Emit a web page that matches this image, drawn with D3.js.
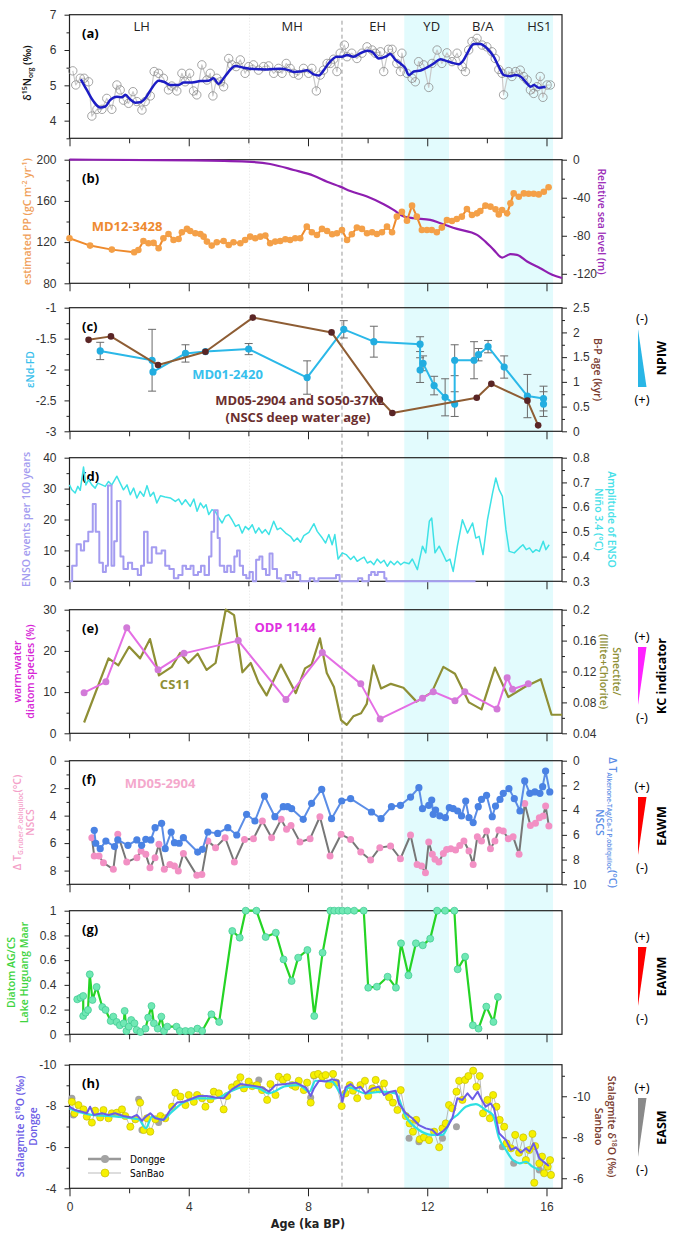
<!DOCTYPE html>
<html>
<head>
<meta charset="utf-8">
<script src="https://cdn.jsdelivr.net/npm/d3@7"></script>
<style>
body{margin:0;background:#fff;}
svg text{font-family:"Liberation Sans Narrow","Arial Narrow","DejaVu Sans Condensed",sans-serif;}
.ttl{font-family:"Open Sans",sans-serif;font-weight:600;font-size:10.5px;}
.lbl{font-family:"Open Sans",sans-serif;font-weight:700;font-size:13px;}
</style>
</head>
<body>
<svg id="chart" width="686" height="1235"></svg>
<script>
const WIDTH = 686, HEIGHT = 1235;
const LEFT = 69.5, RIGHT = 562;
const PANEL_H = 123.6;
const TOPS = [14.7, 159.7, 307.7, 457.7, 609.7, 760.7, 910.7, 1064.7];

// ---- data ----
const ageTicks = [0, 4, 8, 12, 16];
const ageMinor = [2, 6, 10, 14];
const eraNames = ['LH', 'MH', 'EH', 'YD', 'B/A', 'HS1'];
const eraAges = [2.42, 7.47, 10.34, 12.15, 13.86, 15.76];
const bands = [[11.23, 12.73], [14.59, 16.22]];
const dashedAge = 9.14, dottedAge = 6.04;

// (a) d15N org
const n15Raw = [[0.11,5.41],[0.21,5.01],[0.36,5.2],[0.49,5.2],[0.64,5.1],[0.75,4.13],[0.92,4.32],[1.09,4.32],[1.25,4.63],[1.42,4.32],[1.59,5.01],[1.7,4.87],[1.81,4.58],[1.98,4.49],[2.13,4.82],[2.26,4.54],[2.43,4.3],[2.54,4.54],[2.71,4.7],[2.84,5.39],[2.99,5.34],[3.15,5.2],[3.32,4.87],[3.43,4.98],[3.6,4.84],[3.77,5.34],[3.88,5.1],[4.03,5.34],[4.16,4.84],[4.27,4.73],[4.44,5.58],[4.61,5.15],[4.72,5.34],[4.81,4.7],[4.94,5.2],[5.06,5.1],[5.17,4.96],[5.34,5.76],[5.45,5.58],[5.59,5.53],[5.73,5.72],[5.89,5.34],[6.01,5.53],[6.17,5.58],[6.34,5.43],[6.51,5.53],[6.68,5.55],[6.85,5.34],[7.01,5.48],[7.13,5.34],[7.27,5.62],[7.4,5.48],[7.52,5.34],[7.68,5.29],[7.85,5.48],[8.02,5.34],[8.13,5.48],[8.28,4.84],[8.41,5.29],[8.52,5.43],[8.64,5.62],[8.75,5.62],[8.86,5.74],[8.97,5.39],[9.08,5.91],[9.22,6.14],[9.31,5.81],[9.47,5.91],[9.64,5.76],[9.81,5.91],[9.98,6.09],[10.15,6.0],[10.26,5.91],[10.43,5.95],[10.54,5.39],[10.7,6.02],[10.82,6.02],[10.98,5.62],[11.1,5.39],[11.15,5.91],[11.32,5.34],[11.49,5.2],[11.6,5.1],[11.71,5.67],[11.88,5.58],[12.05,4.94],[12.16,5.62],[12.33,6.0],[12.49,5.62],[12.66,5.92],[12.83,5.67],[13.0,5.91],[13.17,5.53],[13.28,5.39],[13.39,6.0],[13.5,6.24],[13.67,6.33],[13.84,6.14],[14.0,6.09],[14.17,5.95],[14.28,5.76],[14.4,5.45],[14.51,5.34],[14.56,4.73],[14.73,5.39],[14.84,5.25],[14.96,5.39],[15.12,5.43],[15.23,5.25],[15.35,5.15],[15.46,4.87],[15.57,4.77],[15.68,4.96],[15.79,5.25],[15.88,4.66],[16.02,5.01],[16.13,5.01]];
const n15Smooth = [[0.38,5.17],[0.58,4.87],[0.81,4.54],[1.03,4.37],[1.2,4.4],[1.36,4.58],[1.59,4.68],[1.76,4.66],[1.87,4.73],[2.04,4.6],[2.2,4.51],[2.37,4.52],[2.54,4.63],[2.76,4.92],[2.99,5.13],[3.16,5.1],[3.38,5.01],[3.66,5.01],[3.83,5.08],[4.11,5.08],[4.39,5.12],[4.67,5.13],[4.83,5.2],[5.0,5.04],[5.17,5.2],[5.34,5.39],[5.56,5.55],[5.84,5.5],[6.18,5.46],[6.62,5.45],[7.07,5.47],[7.35,5.43],[7.52,5.38],[7.74,5.39],[7.97,5.43],[8.19,5.31],[8.36,5.28],[8.53,5.43],[8.69,5.62],[8.97,5.81],[9.14,5.81],[9.31,5.86],[9.53,5.81],[9.76,5.91],[9.98,5.98],[10.15,5.95],[10.37,5.76],[10.6,5.81],[10.76,5.89],[10.93,5.72],[11.1,5.62],[11.27,5.48],[11.38,5.29],[11.55,5.39],[11.78,5.42],[12.0,5.51],[12.22,5.62],[12.44,5.74],[12.61,5.7],[12.83,5.64],[13.06,5.6],[13.22,5.72],[13.39,5.98],[13.56,6.17],[13.78,6.17],[14.0,6.05],[14.23,5.81],[14.4,5.53],[14.57,5.29],[14.79,5.26],[14.96,5.29],[15.13,5.25],[15.3,5.1],[15.47,4.96],[15.58,5.01],[15.74,4.93],[15.97,4.96]];

// (b) PP and sea level
const ppMD12 = [[0,123.7],[0.69,116.6],[1.42,112.7],[2.17,110.1],[2.31,112.4],[2.48,121.1],[2.65,118.9],[2.82,119.2],[2.99,114.0],[3.15,123.7],[3.32,127.9],[3.49,122.1],[3.66,123.0],[3.77,129.5],[3.94,132.8],[4.05,130.8],[4.22,128.6],[4.39,127.9],[4.5,125.3],[4.61,120.5],[4.77,116.6],[4.94,119.8],[5.17,121.1],[5.34,117.2],[5.5,119.8],[5.73,118.9],[5.89,122.1],[6.06,125.3],[6.23,123.7],[6.4,125.3],[6.57,126.3],[6.73,118.9],[6.9,120.5],[7.07,121.1],[7.24,122.8],[7.4,122.1],[7.57,123.7],[7.74,123.7],[7.96,135.0],[8.13,129.5],[8.3,126.9],[8.47,132.8],[8.64,130.8],[8.81,127.6],[8.97,128.6],[9.14,131.8],[9.31,122.0],[9.47,127.6],[9.64,134.1],[9.81,132.8],[9.98,128.6],[10.15,129.5],[10.31,127.9],[10.48,129.5],[10.65,135.0],[10.82,129.5],[10.98,144.7],[11.15,149.5],[11.32,140.8],[11.49,155.4],[11.65,144.7],[11.82,131.8],[11.99,131.8],[12.15,131.8],[12.32,129.5],[12.49,134.1],[12.66,141.5],[12.83,140.5],[12.99,142.5],[13.16,144.7],[13.33,152.1],[13.5,146.3],[13.67,147.9],[13.78,150.2],[13.95,155.4],[14.12,154.4],[14.29,151.8],[14.4,146.9],[14.51,151.1],[14.68,147.9],[14.79,157.6],[14.9,167.3],[15.07,164.1],[15.24,167.3],[15.4,167.0],[15.57,167.0],[15.74,166.3],[15.91,168.9],[16.07,173.2]];
const seaLevel = [[0,0],[4.16,-0.7],[5.95,-2],[6.73,-4.5],[7.52,-10.8],[8.19,-16.8],[8.64,-23.1],[9.08,-28.3],[9.42,-32.9],[9.98,-38.8],[10.54,-46.9],[10.87,-52.8],[11.21,-59.8],[11.55,-61.6],[12.1,-63.3],[12.44,-66.8],[13.0,-72.8],[13.67,-79.1],[13.95,-86.1],[14.23,-94.8],[14.51,-102.9],[14.79,-99.4],[15.01,-100.1],[15.35,-107.1],[15.79,-114.1],[16.19,-121.1],[16.52,-124.5]];

// (c) eNd and deep water age  [age, value, half error]
const ndMD01 = [[1.03,-1.70,0.14],[2.77,-1.85,0.5],[2.80,-2.04,0],[3.89,-1.74,0.14],[4.56,-1.71,0],[6.01,-1.67,0.09],[7.97,-2.13,0.27],[9.20,-1.35,0.14],[10.21,-1.55,0.25],[11.76,-1.59,0.12],[11.76,-2.01,0.2],[11.86,-1.90,0.12],[12.23,-2.26,0.15],[12.60,-2.45,0.3],[12.92,-2.56,0.2],[12.92,-1.85,0.25],[13.57,-1.85,0.3],[13.72,-1.76,0.1],[14.04,-1.63,0.1],[14.58,-1.96,0.18],[15.36,-2.43,0.35],[15.90,-2.47,0.2],[15.90,-2.56,0.2]];
const bpAge = [[0.64,1.85],[1.39,1.92],[2.97,1.34],[4.56,1.61],[6.15,2.30],[8.79,2.0],[10.41,0.64],[10.83,0.37],[13.66,0.68],[14.15,0.96],[15.36,0.62],[15.72,0.12]];

// (d) ENSO
const ensoAge = [0,0.09,0.24,0.38,0.49,0.63,0.78,0.88,1.0,1.12,1.22,1.29,1.41,1.5,1.59,1.71,1.81,1.96,2.1,2.29,2.4,2.5,2.62,2.76,2.91,3.09,3.21,3.35,3.5,3.65,3.79,3.91,4.06,4.16,4.31,4.41,4.53,4.68,4.76,4.85,4.97,5.04,5.19,5.29,5.41,5.53,5.62,5.71,5.82,5.93,6.04,6.15,6.26,6.37,6.47,6.59,6.71,6.81,6.96,7.1,7.25,7.4,7.5,7.62,7.74,7.91,8.06,8.21,8.35,8.57,8.79,8.94,9.06,9.38,9.68,9.82,10.04,10.12,10.24,10.34,10.44,10.56,10.63,13.62];
const ensoCount = [0,5,12,10,13,16,25,16,6,3,5,31,5,13,26,8,4,6,4,2,5,16,6,11,9,10,5,4,1,2,5,4,5,2,3,5,2,8,16,23,14,5,3,5,3,8,10,5,2,1,3,0,7,8,4,2,9,4,1,0,2,1,3,2,0,0,1,0,1,1,1,2,0,0,1,0,2,3,2,3,3,1,0,0];
const ensoAmp = [[0,0.69],[0.08,0.67],[0.19,0.657],[0.28,0.684],[0.36,0.668],[0.47,0.762],[0.55,0.69],[0.64,0.711],[0.75,0.69],[0.86,0.677],[0.95,0.697],[1.09,0.69],[1.2,0.684],[1.31,0.704],[1.42,0.69],[1.59,0.725],[1.7,0.697],[1.81,0.67],[1.93,0.69],[2.04,0.65],[2.15,0.677],[2.26,0.637],[2.37,0.664],[2.49,0.644],[2.6,0.687],[2.71,0.644],[2.82,0.66],[2.93,0.617],[3.05,0.646],[3.21,0.641],[3.38,0.637],[3.55,0.623],[3.66,0.633],[3.77,0.61],[3.89,0.63],[4.05,0.603],[4.17,0.633],[4.28,0.583],[4.39,0.617],[4.5,0.597],[4.58,0.61],[4.67,0.57],[4.78,0.59],[4.89,0.583],[5.01,0.556],[5.12,0.536],[5.23,0.563],[5.34,0.57],[5.45,0.549],[5.57,0.522],[5.68,0.529],[5.79,0.495],[5.9,0.522],[6.01,0.509],[6.13,0.529],[6.24,0.495],[6.35,0.516],[6.46,0.495],[6.57,0.509],[6.69,0.489],[6.85,0.543],[6.97,0.509],[7.08,0.516],[7.25,0.495],[7.41,0.482],[7.53,0.462],[7.64,0.475],[7.75,0.458],[7.86,0.485],[8.03,0.498],[8.2,0.533],[8.31,0.502],[8.48,0.475],[8.59,0.455],[8.7,0.489],[8.81,0.448],[8.9,0.489],[9.01,0.39],[9.15,0.415],[9.28,0.408],[9.43,0.388],[9.54,0.401],[9.65,0.381],[9.76,0.39],[9.88,0.398],[9.99,0.374],[10.1,0.381],[10.21,0.367],[10.32,0.39],[10.44,0.374],[10.55,0.385],[10.66,0.361],[10.77,0.381],[10.89,0.367],[11.0,0.381],[11.11,0.367],[11.22,0.377],[11.39,0.371],[11.5,0.39],[11.67,0.347],[11.84,0.442],[11.95,0.415],[12.07,0.543],[12.15,0.556],[12.26,0.415],[12.4,0.442],[12.51,0.415],[12.64,0.381],[12.76,0.39],[12.87,0.34],[13.01,0.442],[13.18,0.549],[13.35,0.495],[13.52,0.536],[13.63,0.475],[13.74,0.482],[13.87,0.408],[14.02,0.549],[14.19,0.657],[14.3,0.718],[14.41,0.671],[14.52,0.644],[14.64,0.509],[14.75,0.421],[14.92,0.415],[15.09,0.435],[15.21,0.448],[15.32,0.428],[15.43,0.435],[15.54,0.417],[15.65,0.428],[15.76,0.421],[15.89,0.462],[15.98,0.428],[16.09,0.448]];

// (e) warm-water diatoms and clay ratio
const odp1144 = [[0.49,9.87],[1.22,12.5],[1.92,25.6],[2.97,15.4],[3.84,19.4],[5.66,22.5],[7.26,8.2],[8.48,19.6],[9.77,12.0],[10.42,3.5],[11.84,8.5],[12.2,10.1],[12.93,7.9],[13.26,10.1],[14.34,5.9],[14.68,13.5],[14.86,10.7],[15.39,12.0]];
const cs11 = [[0.49,0.054],[1.31,0.137],[1.64,0.128],[2.0,0.152],[2.37,0.137],[2.7,0.162],[3.0,0.115],[3.43,0.126],[3.71,0.144],[3.99,0.131],[4.3,0.143],[4.6,0.122],[4.9,0.131],[5.24,0.2],[5.52,0.193],[5.8,0.119],[6.08,0.131],[6.34,0.106],[6.61,0.089],[7.09,0.129],[7.59,0.092],[7.9,0.124],[8.12,0.129],[8.4,0.163],[8.63,0.118],[8.87,0.1],[9.11,0.057],[9.3,0.051],[9.52,0.062],[9.78,0.066],[9.97,0.078],[10.19,0.128],[10.45,0.098],[10.78,0.104],[11.2,0.099],[11.64,0.081],[12.15,0.093],[12.54,0.126],[12.93,0.117],[13.4,0.08],[13.82,0.071],[14.27,0.125],[14.72,0.087],[15.27,0.1],[15.81,0.11],[16.17,0.064],[16.52,0.064]];

// (f) temperature differences
const dtAlk = [[0.83,5.63],[0.88,6.68],[1.03,7.12],[1.22,6.5],[1.51,6.95],[1.62,6.41],[1.96,6.85],[2.26,6.41],[2.42,6.85],[2.56,6.36],[2.73,6.41],[2.87,5.42],[3.09,5.07],[3.21,7.12],[3.41,5.77],[3.52,6.63],[3.68,6.68],[3.82,6.23],[4.3,7.39],[4.46,7.17],[4.64,5.77],[4.97,5.88],[5.31,5.42],[5.61,6.01],[5.94,4.34],[6.22,4.88],[6.54,2.86],[6.89,4.53],[7.17,3.72],[7.32,3.72],[7.45,3.88],[7.84,4.74],[8.12,3.45],[8.46,2.32],[8.79,4.69],[9.13,3.26],[9.43,3.07],[10.13,4.15],[10.45,4.69],[10.8,3.72],[11.1,3.61],[11.44,2.94],[11.72,2.18],[11.84,3.88],[12.05,3.61],[12.15,3.18],[12.2,4.34],[12.28,3.99],[12.42,4.47],[12.61,4.61],[12.74,3.8],[12.87,3.88],[13.02,4.07],[13.15,4.47],[13.29,3.26],[13.4,4.61],[13.54,5.01],[13.71,3.72],[13.82,3.13],[13.99,2.8],[14.18,4.53],[14.29,3.67],[14.44,3.13],[14.55,2.64],[14.74,2.26],[14.92,3.07],[15.11,4.07],[15.27,1.64],[15.44,2.64],[15.61,2.53],[15.78,2.64],[15.87,2.1],[15.97,0.84],[16.11,2.53]];
const dtRuber = [[0.75,5.61],[0.83,6.94],[0.99,6.94],[1.14,7.43],[1.47,7.91],[1.62,5.36],[1.92,7.38],[2.26,7.06],[2.4,6.58],[2.56,6.82],[2.7,7.79],[2.87,7.06],[3.0,6.09],[3.18,7.91],[3.37,7.55],[3.52,7.67],[3.65,8.03],[3.82,6.75],[4.27,8.35],[4.44,8.28],[4.64,5.85],[4.9,6.33],[5.22,5.61],[5.53,7.38],[5.87,5.73],[6.17,5.68],[6.47,4.39],[6.78,5.61],[7.1,4.27],[7.28,5.0],[7.43,4.71],[7.73,5.92],[8.07,5.68],[8.4,4.08],[8.74,6.94],[9.11,5.36],[9.43,5.73],[9.77,6.65],[10.1,7.23],[10.41,6.33],[10.77,6.21],[11.1,7.14],[11.44,5.41],[11.66,7.55],[11.81,7.67],[11.94,8.16],[12.05,5.92],[12.17,6.82],[12.26,7.18],[12.39,7.38],[12.54,6.75],[12.65,6.46],[12.79,6.41],[12.95,6.51],[13.09,6.17],[13.23,5.85],[13.4,6.58],[13.54,7.55],[13.68,5.53],[13.82,5.85],[13.99,5.12],[14.12,6.41],[14.27,5.85],[14.4,5.05],[14.55,5.12],[14.72,5.68],[14.88,5.53],[15.08,6.82],[15.27,3.11],[15.46,4.71],[15.63,4.56],[15.76,4.15],[15.89,4.03],[15.97,3.3],[16.08,4.76]];

// (g) Lake Huguang Maar diatom AG/CS
const agcs = [[0.26,0.283],[0.37,0.296],[0.46,0.31],[0.46,0.148],[0.54,0.175],[0.62,0.197],[0.68,0.485],[0.77,0.278],[0.91,0.383],[1.1,0.221],[1.21,0.197],[1.38,0.108],[1.47,0.143],[1.58,0.1],[1.69,0.073],[1.82,0.089],[1.85,0.189],[1.91,0.027],[1.99,0.062],[2.07,0.116],[2.18,0.089],[2.25,0.035],[2.38,0.019],[2.55,0.046],[2.64,0.135],[2.75,0.229],[2.83,0.089],[2.96,0.046],[3.08,0.143],[3.17,0.027],[3.28,0.062],[3.59,0.062],[3.7,0.027],[3.89,0.027],[4.08,0.027],[4.29,0.046],[4.45,0.027],[4.76,0.162],[5.02,0.1],[5.46,0.836],[5.71,0.782],[5.91,1],[6.27,1],[6.58,0.787],[6.92,0.822],[7.18,0.606],[7.45,0.431],[7.67,0.62],[7.98,0.682],[8.21,0.148],[8.49,0.66],[8.75,1],[8.88,1],[9.03,1],[9.16,1],[9.33,1],[9.55,1],[9.87,1],[10.02,0.377],[10.31,0.385],[10.67,0.466],[10.95,0.377],[11.12,0.736],[11.37,0.477],[11.62,0.736],[11.85,0.72],[12.1,0.774],[12.33,1],[12.6,1],[12.91,1],[13.02,0.526],[13.27,0.628],[13.53,0.073],[13.72,0.046],[13.98,0.224],[14.22,0.1],[14.37,0.302]];

// (h) stalagmite d18O
const dongSmooth = [[0,-7.96],[0.19,-7.8],[0.41,-7.72],[0.58,-7.64],[0.69,-7.96],[0.81,-7.56],[1.09,-7.64],[1.31,-7.56],[1.53,-7.64],[1.81,-7.51],[2.09,-7.44],[2.26,-7.56],[2.43,-7.28],[2.56,-7.48],[2.71,-7.64],[2.88,-7.4],[3.16,-7.32],[3.38,-7.8],[3.61,-8.16],[3.83,-8.2],[4.05,-8.32],[4.33,-8.48],[4.61,-8.48],[4.89,-8.41],[5.17,-8.37],[5.45,-8.8],[5.73,-9.06],[5.96,-9.01],[6.24,-8.96],[6.46,-8.9],[6.69,-8.69],[6.91,-9.01],[7.25,-9.06],[7.59,-9.13],[7.92,-8.9],[8.09,-8.48],[8.2,-8.85],[8.37,-9.22],[8.59,-9.18],[8.81,-9.29],[9.01,-9.22],[9.15,-8.2],[9.26,-8.9],[9.43,-9.06],[9.6,-8.85],[9.76,-8.93],[9.93,-8.61],[10.16,-8.85],[10.38,-8.93],[10.55,-8.53],[10.77,-8.69],[10.94,-8.74],[11.05,-8.12],[11.28,-7.64],[11.5,-7.4],[11.72,-7.07],[11.95,-6.91],[12.17,-6.83],[12.34,-6.59],[12.51,-6.75],[12.68,-6.99],[12.84,-7.4],[13.01,-8.37],[13.18,-8.29],[13.35,-8.61],[13.52,-8.32],[13.69,-8.69],[13.83,-8.29],[13.96,-7.96],[14.13,-8.12],[14.24,-7.88],[14.41,-6.67],[14.64,-6.34],[14.81,-5.86],[14.97,-5.99],[15.14,-5.73],[15.31,-5.94],[15.43,-5.78],[15.57,-6.18],[15.76,-5.46],[15.97,-5.21],[16.08,-5.08]];
const sanSmooth = [[0,-7.88],[0.41,-7.67],[0.75,-7.56],[1.31,-7.51],[1.87,-7.44],[2.32,-7.35],[2.56,-6.91],[2.77,-7.48],[3.1,-7.32],[3.44,-7.72],[3.77,-8.12],[4.33,-8.37],[4.89,-8.37],[5.45,-8.74],[5.9,-8.93],[6.35,-8.85],[6.69,-8.61],[7.25,-8.96],[7.69,-9.01],[8.05,-8.69],[8.25,-9.22],[8.81,-9.18],[9.15,-8.53],[9.37,-8.9],[9.93,-8.61],[10.49,-8.69],[10.94,-8.61],[11.28,-7.48],[11.72,-6.83],[12.17,-6.59],[12.51,-6.59],[12.79,-7.32],[13.01,-7.56],[13.29,-7.96],[13.63,-8.09],[13.96,-7.8],[14.2,-7.56],[14.41,-6.43],[14.64,-5.86],[14.87,-5.37],[15.1,-5.21],[15.31,-5.29],[15.53,-5.05],[15.76,-4.89]];
const sanRaw = [[0.08,-8.2],[0.17,-7.64],[0.3,-8.04],[0.47,-7.83],[0.58,-7.48],[0.75,-7.19],[0.86,-7.77],[1.03,-7.44],[1.14,-7.8],[1.31,-7.4],[1.42,-7.64],[1.59,-7.67],[1.76,-7.83],[1.87,-7.51],[2.04,-6.99],[2.21,-7.35],[2.37,-8.16],[2.49,-6.83],[2.6,-7.4],[2.71,-6.75],[2.88,-7.35],[3.05,-7.51],[3.21,-7.4],[3.44,-7.96],[3.55,-8.64],[3.72,-8.45],[3.89,-8.04],[4.0,-8.53],[4.17,-8.2],[4.28,-8.53],[4.45,-8.37],[4.56,-7.96],[4.73,-8.32],[4.84,-8.69],[5.01,-8.61],[5.17,-7.83],[5.29,-8.48],[5.45,-8.9],[5.62,-9.06],[5.73,-9.39],[5.85,-8.85],[6.01,-9.18],[6.13,-8.96],[6.29,-9.01],[6.46,-8.77],[6.63,-8.29],[6.74,-9.06],[6.91,-8.53],[7.02,-9.42],[7.16,-9.26],[7.3,-9.39],[7.47,-9.01],[7.58,-8.93],[7.69,-9.22],[7.86,-8.77],[7.97,-9.13],[8.09,-8.16],[8.2,-9.5],[8.34,-9.55],[8.48,-9.42],[8.59,-9.5],[8.7,-9.01],[8.84,-9.55],[8.95,-9.13],[9.13,-7.99],[9.26,-8.61],[9.4,-9.01],[9.51,-8.74],[9.65,-8.37],[9.76,-9.01],[9.91,-9.22],[10.02,-8.48],[10.16,-8.85],[10.27,-9.26],[10.4,-8.8],[10.55,-9.09],[10.72,-8.42],[10.85,-8.16],[11.0,-7.8],[11.11,-8.77],[11.28,-7.51],[11.41,-7.15],[11.52,-6.75],[11.63,-7.32],[11.75,-6.38],[11.89,-6.47],[12.06,-6.34],[12.23,-6.75],[12.4,-5.99],[12.51,-6.91],[12.62,-7.15],[12.73,-8.04],[12.84,-7.88],[12.98,-8.69],[13.07,-9.22],[13.18,-8.29],[13.27,-9.26],[13.38,-9.45],[13.54,-9.71],[13.65,-8.93],[13.76,-9.45],[13.87,-7.64],[14.02,-8.29],[14.1,-7.4],[14.21,-8.53],[14.32,-7.96],[14.43,-7.32],[14.58,-6.99],[14.66,-6.18],[14.81,-5.94],[14.95,-6.59],[15.08,-5.73],[15.22,-6.47],[15.31,-5.37],[15.42,-5.86],[15.53,-6.64],[15.59,-4.27],[15.62,-6.05],[15.76,-5.21],[15.85,-5.54],[15.92,-4.73],[16.04,-5.05],[16.12,-5.37],[16.15,-4.65]];
const dongRaw = [[0.08,-8.37],[0.13,-7.56],[2.32,-8.32],[2.43,-6.83],[2.99,-7.19],[6.35,-9.26],[8.09,-8.41],[8.2,-9.45],[11.39,-6.43],[11.72,-6.26],[12.51,-6.43],[12.98,-6.99],[14.52,-6.02],[14.9,-5.21],[15.76,-4.89]];

// ---- drawing ----
const svg = d3.select('#chart');
const x = d3.scaleLinear().domain([0, 16.52]).range([LEFT, RIGHT]);
const yFirst = TOPS[0], yLast = TOPS[7] + PANEL_H;

svg.selectAll('.band').data(bands).enter().append('rect')
	.attr('x', d => x(d[0])).attr('width', d => x(d[1]) - x(d[0]))
	.attr('y', yFirst).attr('height', yLast - yFirst)
	.attr('fill', '#e2fbfd');

svg.append('line').attr('x1', x(dottedAge)).attr('x2', x(dottedAge))
	.attr('y1', yFirst).attr('y2', yLast)
	.attr('stroke', '#e4e4e4').attr('stroke-dasharray', '1,2');
svg.append('line').attr('x1', x(dashedAge)).attr('x2', x(dashedAge))
	.attr('y1', yFirst + 6).attr('y2', yLast)
	.attr('stroke', '#999').attr('stroke-dasharray', '4,3');

var styleAxis = function(a){
	a.selectAll('.domain').remove();
	a.selectAll('line').attr('stroke', '#222');
	a.selectAll('text').attr('font-size', 12).attr('fill', '#333')
		.style('font-family', '"Liberation Sans Narrow","Arial Narrow",sans-serif');
};

var yAxis = function(g, scale, side, major, minor){
	var gen = side == 'left' ? d3.axisLeft : d3.axisRight;
	var a = g.append('g').attr('transform', 'translate(' + (side == 'left' ? LEFT : RIGHT) + ',0)');
	a.call(gen(scale).tickValues(major).tickSize(5).tickPadding(side == 'left' ? 8 : 6).tickFormat(d => String(d)));
	a.append('g').call(gen(scale).tickValues(minor).tickSize(3).tickFormat(''));
	styleAxis(a);
};

var makePanel = function(i, name){
	var top = TOPS[i], bot = top + PANEL_H;
	var g = svg.append('g');
	var a = g.append('g').attr('transform', 'translate(0,' + bot + ')');
	a.call(d3.axisBottom(x).tickValues(ageTicks).tickSize(8).tickPadding(6)
		.tickFormat(i == 7 ? d3.format('d') : ''));
	a.append('g').call(d3.axisBottom(x).tickValues(ageMinor).tickSize(5).tickFormat(''));
	styleAxis(a);
	g.append('rect').attr('x', LEFT).attr('y', top).attr('width', RIGHT - LEFT).attr('height', PANEL_H)
		.attr('fill', 'none').attr('stroke', '#222').attr('stroke-width', 1.2);
	g.append('text').attr('class', 'lbl').attr('x', 82).attr('y', top + 23).text(name);
	return g;
};

var yRange = i => [TOPS[i] + PANEL_H, TOPS[i]];

var drawLine = function(g, data, ys, color, w, curve){
	g.append('path')
		.attr('d', d3.line().x(d => x(d[0])).y(d => ys(d[1])).curve(curve || d3.curveLinear)(data))
		.attr('fill', 'none').attr('stroke', color).attr('stroke-width', w)
		.attr('stroke-linejoin', 'round');
};

var drawDots = function(g, data, ys, r, fill, stroke, sw){
	g.append('g').selectAll('circle').data(data).enter().append('circle')
		.attr('cx', d => x(d[0])).attr('cy', d => ys(d[1])).attr('r', r)
		.attr('fill', fill).attr('stroke', stroke || 'none').attr('stroke-width', sw || 0);
};

// vertical axis titles; lines: array of arrays of [text, kind] where kind: '', 'sup', 'sub'
var vTitle = function(xp, yc, rot, color, lines){
	var t = svg.append('text').attr('class', 'ttl')
		.attr('transform', 'translate(' + xp + ',' + yc + ') rotate(' + rot + ')')
		.attr('text-anchor', 'middle').attr('fill', color);
	lines.forEach(function(parts, li){
		parts.forEach(function(p, pi){
			var s = t.append('tspan').text(p[0]);
			if (pi == 0) s.attr('x', 0).attr('dy', li == 0 ? 0 : 13);
			if (p[1] == 'sup') s.attr('baseline-shift', '4').attr('font-size', 7);
			if (p[1] == 'sub') s.attr('baseline-shift', '-2').attr('font-size', 6.5);
		});
	});
};

var mid = i => TOPS[i] + PANEL_H / 2;

// (a)
var ga = makePanel(0, '(a)');
var ya = d3.scaleLinear().domain([3.5, 7]).range(yRange(0));
yAxis(ga, ya, 'left', [4, 5, 6, 7], [3.5, 4.5, 5.5, 6.5]);
drawLine(ga, n15Raw, ya, '#c9c9c9', 1.2);
drawDots(ga, n15Raw, ya, 4.2, 'none', '#8d8d8d', 0.8);
drawLine(ga, n15Smooth, ya, '#1c1cc4', 2.5, d3.curveMonotoneX);
ga.selectAll('.era').data(eraNames).enter().append('text')
	.attr('x', (d, k) => x(eraAges[k])).attr('y', TOPS[0] + 16)
	.attr('text-anchor', 'middle').attr('font-size', 13).attr('fill', '#222')
	.style('font-family', '"Open Sans",sans-serif').text(d => d);
vTitle(31, 73, -90, '#111', [[['δ', ''], ['15', 'sup'], ['N', ''], ['org', 'sub'], [' (‰)', '']]]);

// (b)
var gb = makePanel(1, '(b)');
var ybL = d3.scaleLinear().domain([80, 200]).range(yRange(1));
var ybR = d3.scaleLinear().domain([-130, 0]).range(yRange(1));
yAxis(gb, ybL, 'left', [80, 120, 160, 200], [100, 140, 180]);
yAxis(gb, ybR, 'right', [0, -40, -80, -120], [-20, -60, -100]);
drawLine(gb, seaLevel, ybR, '#8e1eb0', 2.2, d3.curveMonotoneX);
drawLine(gb, ppMD12, ybL, '#ee8a2c', 2);
drawDots(gb, ppMD12, ybL, 3.3, '#f4a048');
gb.append('text').attr('class', 'lbl').attr('x', 127).attr('y', 230.5).attr('text-anchor', 'middle')
	.attr('fill', '#ee8a30').text('MD12-3428');
vTitle(31, mid(1), -90, '#f0a05a', [[['estimated PP (gC m', ''], ['-2', 'sup'], [' yr', ''], ['-1', 'sup'], [')', '']]]);
vTitle(598, mid(1), 90, '#9b2cb8', [[['Relative sea level (m)', '']]]);

// (c)
var gc = makePanel(2, '(c)');
var ycL = d3.scaleLinear().domain([-3, -1]).range(yRange(2));
var ycR = d3.scaleLinear().domain([0, 2.5]).range(yRange(2));
yAxis(gc, ycL, 'left', [-3, -2.5, -2, -1.5, -1], [-2.75, -2.25, -1.75, -1.25]);
yAxis(gc, ycR, 'right', [0, 0.5, 1, 1.5, 2, 2.5], [0.25, 0.75, 1.25, 1.75, 2.25]);
var eb = gc.append('g').selectAll('g').data(ndMD01.filter(d => d[2] > 0)).enter().append('g')
	.attr('stroke', '#6a6a6a').attr('stroke-width', 1);
eb.append('line').attr('x1', d => x(d[0])).attr('x2', d => x(d[0]))
	.attr('y1', d => ycL(d[1] - d[2])).attr('y2', d => ycL(d[1] + d[2]));
eb.append('line').attr('x1', d => x(d[0]) - 4).attr('x2', d => x(d[0]) + 4)
	.attr('y1', d => ycL(d[1] - d[2])).attr('y2', d => ycL(d[1] - d[2]));
eb.append('line').attr('x1', d => x(d[0]) - 4).attr('x2', d => x(d[0]) + 4)
	.attr('y1', d => ycL(d[1] + d[2])).attr('y2', d => ycL(d[1] + d[2]));
drawLine(gc, ndMD01, ycL, '#2bb8e8', 2);
drawDots(gc, ndMD01, ycL, 3.6, '#22ade0');
drawLine(gc, bpAge, ycR, '#8e5d34', 2);
drawDots(gc, bpAge, ycR, 3.3, '#5a2525');
gc.append('text').attr('class', 'lbl').attr('x', 227.5).attr('y', 378.5).attr('text-anchor', 'middle')
	.attr('fill', '#38c0ec').text('MD01-2420');
gc.append('text').attr('class', 'lbl').attr('x', 300).attr('y', 404.5).attr('text-anchor', 'middle')
	.attr('fill', '#6b2e2e').text('MD05-2904 and SO50-37KL');
gc.append('text').attr('class', 'lbl').attr('x', 298).attr('y', 422).attr('text-anchor', 'middle')
	.attr('fill', '#6b2e2e').text('(NSCS deep water age)');
vTitle(34, mid(2), -90, '#39c0ec', [[['εNd-FD', '']]]);
vTitle(594, mid(2), 90, '#7a3b2e', [[['B-P age (kyr)', '']]]);

// (d)
var gd = makePanel(3, '(d)');
var ydL = d3.scaleLinear().domain([0, 40]).range(yRange(3));
var ydR = d3.scaleLinear().domain([0.3, 0.8]).range(yRange(3));
yAxis(gd, ydL, 'left', [0, 10, 20, 30, 40], [5, 15, 25, 35]);
yAxis(gd, ydR, 'right', [0.3, 0.4, 0.5, 0.6, 0.7, 0.8], [0.35, 0.45, 0.55, 0.65, 0.75]);
drawLine(gd, ensoAmp, ydR, '#3ee2e6', 1.5);
drawLine(gd, ensoAge.map((a, k) => [a, ensoCount[k]]), ydL, '#a49cf0', 2, d3.curveStepAfter);
vTitle(30, mid(3), -90, '#a49cf0', [[['ENSO events per 100 years', '']]]);
vTitle(608, mid(3), 90, '#45e0e8', [[['Amplitude of ENSO', '']], [['Niño 3.4 (°C)', '']]]);

// (e)
var ge = makePanel(4, '(e)');
var yeL = d3.scaleLinear().domain([0, 30]).range(yRange(4));
var yeR = d3.scaleLinear().domain([0.04, 0.2]).range(yRange(4));
yAxis(ge, yeL, 'left', [0, 10, 20, 30], [5, 15, 25]);
yAxis(ge, yeR, 'right', [0.04, 0.08, 0.12, 0.16, 0.2], [0.06, 0.1, 0.14, 0.18]);
drawLine(ge, cs11, yeR, '#8f8f35', 2.2);
drawLine(ge, odp1144, yeL, '#e46ee4', 2);
drawDots(ge, odp1144, yeL, 3.5, '#d27ad8');
ge.append('text').attr('class', 'lbl').attr('x', 285).attr('y', 631.5).attr('text-anchor', 'middle')
	.attr('fill', '#e030e0').text('ODP 1144');
ge.append('text').attr('class', 'lbl').attr('x', 175).attr('y', 689).attr('text-anchor', 'middle')
	.attr('fill', '#8f8f35').text('CS11');
vTitle(21, mid(4), -90, '#d626d6', [[['warm-water', '']], [['diatom species (%)', '']]]);
vTitle(613, mid(4), 90, '#8f8f35', [[['Smectite/', '']], [['(Illite+Chlorite)', '']]]);

// (f)
var gf = makePanel(5, '(f)');
var yfL = d3.scaleLinear().domain([9, 0]).range(yRange(5));
var yfR = d3.scaleLinear().domain([10, 0]).range(yRange(5));
yAxis(gf, yfL, 'left', [0, 2, 4, 6, 8], [1, 3, 5, 7, 9]);
yAxis(gf, yfR, 'right', [0, 2, 4, 6, 8, 10], [1, 3, 5, 7, 9]);
drawLine(gf, dtRuber, yfL, '#777', 2);
drawDots(gf, dtRuber, yfL, 3.5, '#f290c4');
drawLine(gf, dtAlk, yfR, '#5b8de6', 2);
drawDots(gf, dtAlk, yfR, 3.6, '#4a82e3');
gf.append('text').attr('class', 'lbl').attr('x', 160).attr('y', 787.5).attr('text-anchor', 'middle')
	.attr('fill', '#f4a8cc').text('MD05-2904');
vTitle(21, mid(5), -90, '#f4a0c8', [[['Δ T', ''], ['G.ruber-P.obliquiloc', 'sub'], ['(°C)', '']], [['NSCS', '']]]);
vTitle(609, mid(5), 90, '#5b8de6', [[['Δ T', ''], ['Alkenone-TAg/Ca-T P.obliquiloc', 'sub'], ['(°C)', '']], [['NSCS', '']]]);

// (g)
var gg = makePanel(6, '(g)');
var yg = d3.scaleLinear().domain([0, 1]).range(yRange(6));
yAxis(gg, yg, 'left', [0, 0.2, 0.4, 0.6, 0.8, 1], [0.1, 0.3, 0.5, 0.7, 0.9]);
drawLine(gg, agcs, yg, '#25d425', 2.2);
drawDots(gg, agcs, yg, 3.5, '#70e8b4', '#3cc890', 0.7);
vTitle(15, mid(6), -90, '#3ed43e', [[['Diatom AG/CS', '']], [['Lake Huguang Maar', '']]]);

// (h)
var gh = makePanel(7, '(h)');
var yh = d3.scaleLinear().domain([-4, -10]).range(yRange(7));
var yhR = d3.scaleLinear().domain([-5.51, -11.54]).range(yRange(7));
yAxis(gh, yh, 'left', [-10, -8, -6, -4], [-9, -7, -5]);
yAxis(gh, yhR, 'right', [-10, -8, -6], [-11, -9, -7]);
drawDots(gh, dongRaw, yh, 3.5, '#a3a3a3');
drawLine(gh, sanRaw, yh, '#a8a8a8', 0.8);
drawDots(gh, sanRaw, yh, 3.6, '#f6f000', '#bdb500', 0.6);
drawLine(gh, sanSmooth, yh, '#2ee0e2', 2.2, d3.curveMonotoneX);
drawLine(gh, dongSmooth, yh, '#6c5ce6', 2, d3.curveLinear);
var leg = gh.append('g');
leg.append('line').attr('x1', 88).attr('x2', 121).attr('y1', 1159).attr('y2', 1159).attr('stroke', '#999').attr('stroke-width', 2.5);
leg.append('circle').attr('cx', 105).attr('cy', 1159).attr('r', 4).attr('fill', '#a3a3a3');
leg.append('line').attr('x1', 88).attr('x2', 121).attr('y1', 1173).attr('y2', 1173).attr('stroke', '#aaa').attr('stroke-width', 0.8);
leg.append('circle').attr('cx', 105).attr('cy', 1173).attr('r', 4).attr('fill', '#f6f000').attr('stroke', '#bdb500').attr('stroke-width', 0.6);
leg.append('text').attr('x', 130).attr('y', 1162.5).attr('font-size', 10).text('Dongge');
leg.append('text').attr('x', 130).attr('y', 1176.5).attr('font-size', 10).text('SanBao');
vTitle(24, mid(7), -90, '#6c5ce6', [[['Stalagmite δ', ''], ['18', 'sup'], ['O (‰)', '']], [['Dongge', '']]]);
vTitle(608, mid(7), 90, '#7a3b2e', [[['Stalagmite δ', ''], ['18', 'sup'], ['O (‰)', '']], [['Sanbao', '']]]);

svg.append('text').attr('x', x(8)).attr('y', 1228).attr('text-anchor', 'middle')
	.attr('font-size', 12.5).attr('font-weight', 'bold').attr('fill', '#222').text('Age (ka BP)');

// ---- forcing indicators on the right ----
var indicators = [
	{top: 329, bot: 387, wideAtTop: false, color: '#29b6e6', name: 'NPIW', upper: '(-)', lower: '(+)'},
	{top: 647, bot: 705, wideAtTop: true, color: '#ff22ff', name: 'KC indicator', upper: '(+)', lower: '(-)'},
	{top: 797, bot: 855, wideAtTop: true, color: '#ff0000', name: 'EAWM', upper: '(+)', lower: '(-)'},
	{top: 947, bot: 1006, wideAtTop: true, color: '#ff0000', name: 'EAWM', upper: '(+)', lower: '(-)'},
	{top: 1098, bot: 1157, wideAtTop: true, color: '#8a8a8a', name: 'EASM', upper: '(+)', lower: '(-)'}
];
var ind = svg.selectAll('.ind').data(indicators).enter().append('g');
ind.append('polygon').attr('fill', d => d.color).attr('points', function(d){
	var x0 = 638, x1 = 646.5;
	return d.wideAtTop
		? [[x0, d.top], [x1, d.top], [x0, d.bot]].join(' ')
		: [[x0, d.top], [x0, d.bot], [x1, d.bot]].join(' ');
});
ind.append('text').attr('x', 642).attr('y', d => d.top - 6).attr('text-anchor', 'middle')
	.attr('font-size', 13).style('font-family', '"Open Sans",sans-serif').text(d => d.upper);
ind.append('text').attr('x', 642).attr('y', d => d.bot + 17).attr('text-anchor', 'middle')
	.attr('font-size', 13).style('font-family', '"Open Sans",sans-serif').text(d => d.lower);
ind.append('text').attr('transform', d => 'translate(666,' + (d.top + d.bot) / 2 + ') rotate(-90)')
	.attr('text-anchor', 'middle').attr('font-size', 12.5).attr('font-weight', 'bold')
	.style('font-family', '"Open Sans",sans-serif').text(d => d.name);
</script>
</body>
</html>
